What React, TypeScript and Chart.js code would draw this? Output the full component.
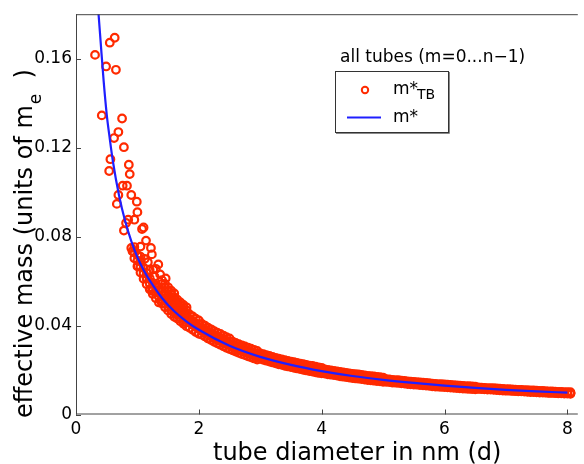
import React, { useEffect, useRef } from "react";
import { Chart, registerables } from "chart.js";

Chart.register(...registerables);

// ---- data ----
const xTicks = [0, 2, 4, 6, 8];
const yTicks = [0, 0.04, 0.08, 0.12, 0.16];

// smooth effective mass curve m*
const curveDiam = [0.34, 0.4, 0.45, 0.5, 0.55, 0.6, 0.7, 0.8, 0.9, 1.0, 1.1, 1.2, 1.4, 1.6, 1.8, 2.0, 2.5, 3.0, 3.5, 4.0, 4.5, 5.0, 5.5, 6.0, 6.5, 7.0, 7.5, 8.0];
const curveMass = [0.19, 0.168, 0.15, 0.135, 0.124, 0.114, 0.0986, 0.087, 0.078, 0.0707, 0.065, 0.0603, 0.0524, 0.0464, 0.0418, 0.0381, 0.0309, 0.0259, 0.0223, 0.0195, 0.0173, 0.0156, 0.0142, 0.013, 0.012, 0.0111, 0.0104, 0.0098];

// scattered tight-binding points at small diameters
const looseDiam = [0.31, 0.55, 0.63, 0.49, 0.65, 0.42, 0.75, 0.69, 0.62, 0.78, 0.56, 0.86, 0.54, 0.875, 0.76, 0.83, 0.69, 0.9, 0.665, 0.99, 1.0, 0.85, 0.95, 0.815, 1.1, 1.075, 0.78, 1.14, 0.9, 1.05, 1.22, 1.235, 0.92, 1.01, 1.34, 1.26, 1.155, 1.46, 1.37, 1.235, 1.38, 1.3, 1.35, 1.28, 1.2, 1.12, 1.05, 1.17, 1.3];
const looseMass = [0.1617, 0.1672, 0.1694, 0.1565, 0.155, 0.1345, 0.1331, 0.127, 0.1243, 0.1202, 0.1148, 0.1123, 0.1095, 0.1081, 0.1029, 0.1029, 0.0987, 0.0987, 0.0947, 0.0957, 0.091, 0.0876, 0.0876, 0.0861, 0.0841, 0.0834, 0.0827, 0.0782, 0.0749, 0.0755, 0.0749, 0.072, 0.0734, 0.0667, 0.0675, 0.0653, 0.0612, 0.0612, 0.063, 0.0556, 0.0511, 0.058, 0.056, 0.062, 0.065, 0.07, 0.071, 0.0685, 0.0655];

// filled cluster just around the curve, d = 0.95 .. 1.8
const fillDiam = [
  0.95, 1.0, 1.05, 1.1, 1.15, 1.2, 1.25, 1.3, 1.35,
  0.95, 1.0, 1.05, 1.1, 1.15, 1.2, 1.25, 1.3, 1.35,
  0.95, 1.0, 1.05, 1.1, 1.15, 1.2, 1.25, 1.3, 1.35,
  1.4, 1.45, 1.5, 1.55, 1.6, 1.4, 1.45, 1.5, 1.55, 1.6, 1.4, 1.45, 1.5, 1.55, 1.6,
  1.65, 1.7, 1.75, 1.8, 1.65, 1.7, 1.75, 1.8, 1.65, 1.7, 1.75, 1.8,
];
const fillMass = [
  0.0703, 0.0667, 0.0638, 0.061, 0.0586, 0.0563, 0.0542, 0.0523, 0.0504,
  0.0728, 0.0692, 0.0663, 0.0635, 0.0611, 0.0588, 0.0567, 0.0548, 0.0529,
  0.0753, 0.0717, 0.0688, 0.066, 0.0636, 0.0613, 0.0592, 0.0573, 0.0554,
  0.0587, 0.057, 0.0555, 0.054, 0.0527, 0.0551, 0.0534, 0.0519, 0.0504, 0.0491, 0.0517, 0.05, 0.0485, 0.047, 0.0457,
  0.0502, 0.049, 0.0479, 0.0468, 0.0476, 0.0464, 0.0453, 0.0442, 0.0448, 0.0436, 0.0425, 0.0414,
];

// dense band of tight-binding points (four rows)
const bandDiam = [
  1.4, 1.45, 1.5, 1.55, 1.6, 1.65, 1.7, 1.75, 1.8, 1.85, 1.9, 1.95, 2.0, 2.05, 2.1, 2.15, 2.2, 2.25, 2.3, 2.35, 2.4, 2.45, 2.5, 2.55, 2.6, 2.65, 2.7, 2.75, 2.8, 2.85, 2.9, 2.95,
  3.0, 3.05, 3.1, 3.15, 3.2, 3.25, 3.3, 3.35, 3.4, 3.45, 3.5, 3.55, 3.6, 3.65, 3.7, 3.75, 3.8, 3.85, 3.9, 3.95, 4.0,
  4.05, 4.1, 4.15, 4.2, 4.25, 4.3, 4.35, 4.4, 4.45, 4.5, 4.55, 4.6, 4.65, 4.7, 4.75, 4.8, 4.85, 4.9, 4.95, 5.0,
  5.05, 5.1, 5.15, 5.2, 5.25, 5.3, 5.35, 5.4, 5.45, 5.5, 5.55, 5.6, 5.65, 5.7, 5.75, 5.8, 5.85, 5.9, 5.95, 6.0, 6.05, 6.1, 6.15, 6.2, 6.25, 6.3, 6.35, 6.4, 6.45, 6.5,
  6.55, 6.6, 6.65, 6.7, 6.75, 6.8, 6.85, 6.9, 6.95, 7.0, 7.05, 7.1, 7.15, 7.2, 7.25, 7.3, 7.35, 7.4, 7.45, 7.5, 7.55, 7.6, 7.65, 7.7, 7.75, 7.8, 7.85, 7.9, 7.95, 8.0, 8.05,
];
const bandUpper = [
  0.0604, 0.0587, 0.0572, 0.0557, 0.0544, 0.0516, 0.0504, 0.0493, 0.0482, 0.045, 0.0441, 0.0431, 0.0423, 0.0407, 0.0399, 0.039, 0.0383, 0.0375, 0.0368, 0.0362, 0.0355, 0.0348, 0.0342, 0.0328, 0.0322, 0.0316, 0.0311, 0.0306, 0.0301, 0.0296, 0.0291, 0.0286,
  0.0275, 0.0271, 0.0267, 0.0263, 0.0259, 0.0255, 0.0251, 0.0248, 0.0244, 0.0241, 0.0238, 0.0235, 0.0232, 0.0229, 0.0226, 0.0223, 0.022, 0.0218, 0.0215, 0.0212, 0.021,
  0.0203, 0.02, 0.0198, 0.0196, 0.0194, 0.0191, 0.0189, 0.0187, 0.0185, 0.0183, 0.0181, 0.018, 0.0178, 0.0176, 0.0174, 0.0173, 0.0171, 0.0169, 0.0168, 0.0166,
  0.0159, 0.0158, 0.0156, 0.0155, 0.0154, 0.0152, 0.0151, 0.0149, 0.0148, 0.0147, 0.0146, 0.0144, 0.0143, 0.0142, 0.0141, 0.0139, 0.0138, 0.0137, 0.0136, 0.0135, 0.0134, 0.0133, 0.0132, 0.0131, 0.013, 0.0129, 0.0128, 0.0127, 0.0126, 0.0125,
  0.0122, 0.0121, 0.012, 0.0119, 0.0119, 0.0118, 0.0117, 0.0116, 0.0115, 0.0114, 0.0114, 0.0113, 0.0112, 0.0111, 0.0111, 0.011, 0.0109, 0.0108, 0.0108, 0.0107, 0.0106, 0.0106, 0.0105, 0.0104, 0.0104, 0.0103, 0.0102, 0.0102, 0.0101, 0.0101, 0.01,
];
const bandUpMid = [
  0.0569, 0.0552, 0.0537, 0.0522, 0.0509, 0.0489, 0.0477, 0.0466, 0.0455, 0.043, 0.0421, 0.0411, 0.0403, 0.0391, 0.0383, 0.0374, 0.0367, 0.0359, 0.0352, 0.0346, 0.0339, 0.0332, 0.0326, 0.0315, 0.0309, 0.0303, 0.0298, 0.0293, 0.0288, 0.0283, 0.0278, 0.0273,
  0.0265, 0.0261, 0.0257, 0.0253, 0.0249, 0.0245, 0.0241, 0.0238, 0.0234, 0.0231, 0.0228, 0.0225, 0.0222, 0.0219, 0.0216, 0.0213, 0.021, 0.0208, 0.0205, 0.0202, 0.02,
  0.0196, 0.0193, 0.0191, 0.0189, 0.0187, 0.0184, 0.0182, 0.018, 0.0178, 0.0176, 0.0174, 0.0173, 0.0171, 0.0169, 0.0167, 0.0166, 0.0164, 0.0162, 0.0161, 0.0159,
  0.0155, 0.0154, 0.0152, 0.0151, 0.015, 0.0148, 0.0147, 0.0145, 0.0144, 0.0143, 0.0142, 0.014, 0.0139, 0.0138, 0.0137, 0.0135, 0.0134, 0.0133, 0.0132, 0.0131, 0.013, 0.0129, 0.0128, 0.0127, 0.0126, 0.0125, 0.0124, 0.0123, 0.0122, 0.0121,
  0.0119, 0.0118, 0.0117, 0.0116, 0.0116, 0.0115, 0.0114, 0.0113, 0.0112, 0.0111, 0.0111, 0.011, 0.0109, 0.0108, 0.0108, 0.0107, 0.0106, 0.0105, 0.0105, 0.0104, 0.0103, 0.0103, 0.0102, 0.0101, 0.0101, 0.01, 0.0099, 0.0099, 0.0098, 0.0098, 0.0097,
];
const bandCenter = [
  0.0534, 0.0517, 0.0502, 0.0487, 0.0474, 0.0464, 0.0452, 0.0441, 0.043, 0.0412, 0.0403, 0.0393, 0.0385, 0.0375, 0.0367, 0.0358, 0.0351, 0.0343, 0.0336, 0.033, 0.0323, 0.0316, 0.031, 0.0302, 0.0296, 0.029, 0.0285, 0.028, 0.0275, 0.027, 0.0265, 0.026,
  0.0257, 0.0253, 0.0249, 0.0245, 0.0241, 0.0237, 0.0233, 0.023, 0.0226, 0.0223, 0.022, 0.0217, 0.0214, 0.0211, 0.0208, 0.0205, 0.0202, 0.02, 0.0197, 0.0194, 0.0192,
  0.019, 0.0187, 0.0185, 0.0183, 0.0181, 0.0178, 0.0176, 0.0174, 0.0172, 0.017, 0.0168, 0.0167, 0.0165, 0.0163, 0.0161, 0.016, 0.0158, 0.0156, 0.0155, 0.0153,
  0.0151, 0.015, 0.0148, 0.0147, 0.0146, 0.0144, 0.0143, 0.0141, 0.014, 0.0139, 0.0138, 0.0136, 0.0135, 0.0134, 0.0133, 0.0131, 0.013, 0.0129, 0.0128, 0.0127, 0.0126, 0.0125, 0.0124, 0.0123, 0.0122, 0.0121, 0.012, 0.0119, 0.0118, 0.0117,
  0.0117, 0.0116, 0.0115, 0.0114, 0.0114, 0.0113, 0.0112, 0.0111, 0.011, 0.0109, 0.0109, 0.0108, 0.0107, 0.0106, 0.0106, 0.0105, 0.0104, 0.0103, 0.0103, 0.0102, 0.0101, 0.0101, 0.01, 0.0099, 0.0099, 0.0098, 0.0097, 0.0097, 0.0096, 0.0096, 0.0095,
];
const bandLower = [
  0.0499, 0.0482, 0.0467, 0.0452, 0.0439, 0.0431, 0.0419, 0.0408, 0.0397, 0.039, 0.0381, 0.0371, 0.0363, 0.0359, 0.0351, 0.0342, 0.0335, 0.0327, 0.032, 0.0314, 0.0307, 0.03, 0.0294, 0.0289, 0.0283, 0.0277, 0.0272, 0.0267, 0.0262, 0.0257, 0.0252, 0.0247,
  0.025, 0.0246, 0.0242, 0.0238, 0.0234, 0.023, 0.0226, 0.0223, 0.0219, 0.0216, 0.0213, 0.021, 0.0207, 0.0204, 0.0201, 0.0198, 0.0195, 0.0193, 0.019, 0.0187, 0.0185,
  0.0184, 0.0181, 0.0179, 0.0177, 0.0175, 0.0172, 0.017, 0.0168, 0.0166, 0.0164, 0.0162, 0.0161, 0.0159, 0.0157, 0.0155, 0.0154, 0.0152, 0.015, 0.0149, 0.0147,
  0.0147, 0.0146, 0.0144, 0.0143, 0.0142, 0.014, 0.0139, 0.0137, 0.0136, 0.0135, 0.0134, 0.0132, 0.0131, 0.013, 0.0129, 0.0127, 0.0126, 0.0125, 0.0124, 0.0123, 0.0122, 0.0121, 0.012, 0.0119, 0.0118, 0.0117, 0.0116, 0.0115, 0.0114, 0.0113,
  0.0115, 0.0114, 0.0113, 0.0112, 0.0112, 0.0111, 0.011, 0.0109, 0.0108, 0.0107, 0.0107, 0.0106, 0.0105, 0.0104, 0.0104, 0.0103, 0.0102, 0.0101, 0.0101, 0.01, 0.0099, 0.0099, 0.0098, 0.0097, 0.0097, 0.0096, 0.0095, 0.0095, 0.0094, 0.0094, 0.0093,
];

const RED = "#ff2a00";
const BLUE = "#1f1fff";
const FONT = '"DejaVu Sans", sans-serif';

function pts(xs: number[], ys: number[]) {
  return xs.map((x, i) => ({ x, y: ys[i] }));
}

const decor = {
  id: "decor",
  afterDatasetsDraw(chart: any) {
    const ctx: CanvasRenderingContext2D = chart.ctx;
    const { left, right, top, bottom } = chart.chartArea;
    const xs = chart.scales.x;
    const ys = chart.scales.y;
    ctx.save();
    // frame
    ctx.strokeStyle = "#444";
    ctx.lineWidth = 1;
    ctx.beginPath();
    ctx.moveTo(left + 0.5, top);
    ctx.lineTo(left + 0.5, bottom);
    ctx.moveTo(left, bottom - 0.5);
    ctx.lineTo(right, bottom - 0.5);
    ctx.moveTo(left, top + 0.5);
    ctx.lineTo(right, top + 0.5);
    ctx.stroke();
    // inner ticks
    ctx.beginPath();
    yTicks.forEach((v) => {
      const py = Math.round(ys.getPixelForValue(v)) + 0.5;
      ctx.moveTo(left, py);
      ctx.lineTo(left + 5, py);
    });
    xTicks.forEach((v) => {
      const px = Math.round(xs.getPixelForValue(v)) + 0.5;
      ctx.moveTo(px, bottom);
      ctx.lineTo(px, bottom - 5);
    });
    ctx.stroke();

    ctx.fillStyle = "#000";
    ctx.textBaseline = "alphabetic";
    ctx.textAlign = "left";
    // x title
    ctx.font = `24px ${FONT}`;
    ctx.fillText("tube diameter in nm (d)", 213, 459.5);
    // y title
    ctx.save();
    ctx.translate(31.5, 418);
    ctx.rotate(-Math.PI / 2);
    ctx.font = `24px ${FONT}`;
    const main = "effective mass (units of m";
    ctx.fillText(main, 0, 0);
    let w = ctx.measureText(main).width;
    ctx.font = `17px ${FONT}`;
    ctx.fillText("e", w + 1, 9);
    w += ctx.measureText("e").width + 1;
    ctx.font = `24px ${FONT}`;
    ctx.fillText("  )", w, 0);
    ctx.restore();

    // legend
    ctx.font = `17px ${FONT}`;
    ctx.fillText("all tubes (m=0...n\u22121)", 340, 61.5);
    ctx.fillStyle = "#fff";
    ctx.fillRect(335.5, 71.5, 113, 61);
    ctx.strokeStyle = "#333";
    ctx.lineWidth = 1;
    ctx.strokeRect(335.5, 71.5, 113, 61);
    ctx.beginPath();
    ctx.moveTo(336, 133.5);
    ctx.lineTo(449.5, 133.5);
    ctx.lineTo(449.5, 72);
    ctx.strokeStyle = "#888";
    ctx.stroke();
    // marker
    ctx.beginPath();
    ctx.arc(365, 90, 3.2, 0, Math.PI * 2);
    ctx.strokeStyle = RED;
    ctx.lineWidth = 2;
    ctx.stroke();
    // line
    ctx.beginPath();
    ctx.moveTo(347, 117.5);
    ctx.lineTo(381, 117.5);
    ctx.strokeStyle = BLUE;
    ctx.lineWidth = 2;
    ctx.stroke();
    ctx.fillStyle = "#000";
    ctx.font = `17px ${FONT}`;
    ctx.fillText("m*", 393, 93.5);
    const mw = ctx.measureText("m*").width;
    ctx.font = `14px ${FONT}`;
    ctx.fillText("TB", 393 + mw - 1, 99);
    ctx.font = `17px ${FONT}`;
    ctx.fillText("m*", 393, 122);
    ctx.restore();
  },
};

export default function App() {
  const ref = useRef<HTMLCanvasElement | null>(null);
  useEffect(() => {
    document.body.style.margin = "0";
    const canvas = ref.current;
    if (!canvas) return;
    const tbPoints = [
      ...pts(looseDiam, looseMass),
      ...pts(fillDiam, fillMass),
      ...pts(bandDiam, bandUpper),
      ...pts(bandDiam, bandUpMid),
      ...pts(bandDiam, bandCenter),
      ...pts(bandDiam, bandLower),
    ];
    const chart = new Chart(canvas, {
      type: "scatter",
      data: {
        datasets: [
          {
            label: "m*",
            data: pts(curveDiam, curveMass),
            showLine: true,
            borderColor: BLUE,
            borderWidth: 2.2,
            pointRadius: 0,
            cubicInterpolationMode: "monotone",
            order: 0,
          } as any,
          {
            label: "m*TB",
            data: tbPoints,
            showLine: false,
            pointRadius: 3.8,
            pointBorderWidth: 2.2,
            pointBorderColor: RED,
            pointBackgroundColor: "rgba(0,0,0,0)",
            order: 1,
          } as any,
        ],
      },
      options: {
        responsive: false,
        animation: false,
        events: [],
        layout: { padding: { top: 11.5, left: 0, right: 0, bottom: 0 } },
        plugins: { legend: { display: false }, tooltip: { enabled: false } },
        scales: {
          x: {
            type: "linear",
            min: 0,
            max: 8.17,
            afterFit: (s: any) => {
              s.height = 49.5;
            },
            afterBuildTicks: (s: any) => {
              s.ticks = xTicks.map((v) => ({ value: v }));
            },
            grid: { display: false, drawTicks: false },
            border: { display: false },
            ticks: {
              padding: 5,
              color: "#000",
              font: { size: 17, family: FONT },
              maxRotation: 0,
              autoSkip: false,
              callback: (v: any) => String(v),
            },
          },
          y: {
            type: "linear",
            min: 0,
            max: 0.18,
            afterFit: (s: any) => {
              s.width = 76;
            },
            afterBuildTicks: (s: any) => {
              s.ticks = yTicks.map((v) => ({ value: v }));
            },
            grid: { display: false, drawTicks: false },
            border: { display: false },
            ticks: {
              padding: 4,
              color: "#000",
              font: { size: 17, family: FONT },
              autoSkip: false,
              callback: (v: any) => String(Number(Number(v).toFixed(2))),
            },
          },
        },
      },
      plugins: [decor],
    });
    return () => chart.destroy();
  }, []);
  return (
    <div style={{ width: 584, height: 464, position: "relative" }}>
      <canvas ref={ref} width={584} height={464} style={{ display: "block" }} />
    </div>
  );
}
